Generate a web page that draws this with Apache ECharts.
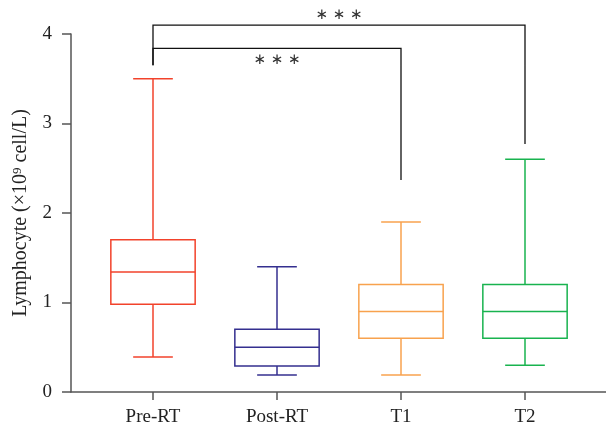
<!DOCTYPE html>
<html lang="en">
<head>
    <meta charset="UTF-8">
    <title>Lymphocyte</title>
    <script src="https://cdn.jsdelivr.net/npm/echarts@6/dist/echarts.min.js"></script>
</head>
<body style="margin:0">
    <div id="pic1" style="width:606px;height:432px;"></div>
    <script>
        var myChart = echarts.init(document.getElementById("pic1"));

        // groups and box values: [min, Q1, median, Q3, max]
        var categories = ['Pre-RT', 'Post-RT', 'T1', 'T2'];
        var preRT  = [0.39, 0.98, 1.34, 1.70, 3.50];
        var postRT = [0.19, 0.29, 0.50, 0.70, 1.40];
        var t1     = [0.19, 0.60, 0.90, 1.20, 1.90];
        var t2     = [0.30, 0.60, 0.90, 1.20, 2.60];
        var yTicks = [0, 1, 2, 3, 4];

        // brackets: [from group, to group, bar level, end level at from, end level at to]
        var brackets = [
            [0, 3, 4.10, 3.65, 2.77],
            [0, 2, 3.84, 3.65, 2.37]
        ];
        // star labels: [from group, to group, level] -> text centred between the two groups
        var stars = [
            [0, 3, 4.21],
            [0, 2, 3.71]
        ];
        var starText = '∗ ∗ ∗';

        var colors = ['#f2422b', '#342f8f', '#f8a24e', '#19b34f'];
        var boxes = [preRT, postRT, t1, t2];
        var font = 'Liberation Serif';

        var boxData = boxes.map(function (b, i) { return [i].concat(b); });

        function renderBox(params, api) {
            var i = api.value(0);
            var band = api.size([1, 0])[0];
            var hw = band * 0.34, cw = band * 0.16;
            var pMin = api.coord([i, api.value(1)]);
            var pQ1 = api.coord([i, api.value(2)]);
            var pMed = api.coord([i, api.value(3)]);
            var pQ3 = api.coord([i, api.value(4)]);
            var pMax = api.coord([i, api.value(5)]);
            var x = pMin[0];
            var st = { stroke: colors[params.dataIndex], lineWidth: 1.5, fill: null };
            function line(x1, y1, x2, y2) {
                return { type: 'line', shape: { x1: x1, y1: y1, x2: x2, y2: y2 }, style: st };
            }
            return {
                type: 'group',
                children: [
                    { type: 'rect', shape: { x: x - hw, y: pQ3[1], width: hw * 2, height: pQ1[1] - pQ3[1] }, style: st },
                    line(x - hw, pMed[1], x + hw, pMed[1]),
                    line(x, pQ3[1], x, pMax[1]),
                    line(x, pQ1[1], x, pMin[1]),
                    line(x - cw, pMax[1], x + cw, pMax[1]),
                    line(x - cw, pMin[1], x + cw, pMin[1])
                ]
            };
        }

        function renderBracket(params, api) {
            var a = api.coord([api.value(0), api.value(2)]);
            var b = api.coord([api.value(1), api.value(2)]);
            var ea = api.coord([api.value(0), api.value(3)]);
            var eb = api.coord([api.value(1), api.value(4)]);
            return {
                type: 'polyline',
                shape: { points: [[ea[0], ea[1]], [a[0], a[1]], [b[0], b[1]], [eb[0], eb[1]]] },
                style: { stroke: '#111', lineWidth: 1.3, fill: null }
            };
        }

        function renderStars(params, api) {
            var a = api.coord([api.value(0), api.value(2)]);
            var b = api.coord([api.value(1), api.value(2)]);
            return {
                type: 'text',
                x: (a[0] + b[0]) / 2, y: a[1],
                style: {
                    text: starText,
                    align: 'center', verticalAlign: 'middle',
                    font: '15px "DejaVu Sans"', fill: '#333'
                }
            };
        }

        var option = {
            backgroundColor: '#ffffff',
            animation: false,
            grid: [
                { left: 71, right: 0, top: 34, bottom: 40 },
                { left: 91, right: 19, top: 34, bottom: 40 }
            ],
            xAxis: [
                {
                    gridIndex: 0, type: 'value', min: 0, max: 1,
                    splitLine: { show: false }, axisTick: { show: false }, axisLabel: { show: false },
                    axisLine: { show: true, lineStyle: { color: '#555', width: 1.5 } }
                },
                {
                    gridIndex: 1, type: 'category', data: categories,
                    axisLine: { show: false },
                    axisTick: { show: true, alignWithLabel: true, length: 8, lineStyle: { color: '#555', width: 1.5 } },
                    axisLabel: { fontFamily: font, fontSize: 19, color: '#222', margin: 16 }
                }
            ],
            yAxis: [
                {
                    gridIndex: 0, type: 'value', min: yTicks[0], max: yTicks[yTicks.length - 1], interval: 1,
                    splitLine: { show: false },
                    axisLine: { show: true, lineStyle: { color: '#555', width: 1.5 } },
                    axisTick: { show: true, length: 9, lineStyle: { color: '#555', width: 1.5 } },
                    axisLabel: { fontFamily: font, fontSize: 19, color: '#222', margin: 19 },
                    name: 'Lymphocyte (×10{sup|9} cell/L)',
                    nameLocation: 'middle', nameRotate: 90, nameGap: 40,
                    nameTextStyle: {
                        fontFamily: font, fontSize: 20, color: '#222',
                        rich: { sup: { fontFamily: font, fontSize: 13, verticalAlign: 'top', color: '#222' } }
                    }
                },
                {
                    gridIndex: 1, type: 'value', min: yTicks[0], max: yTicks[yTicks.length - 1], show: false
                }
            ],
            series: [
                { type: 'custom', xAxisIndex: 1, yAxisIndex: 1, renderItem: renderBox, data: boxData, clip: false },
                { type: 'custom', xAxisIndex: 1, yAxisIndex: 1, renderItem: renderBracket, data: brackets, clip: false },
                { type: 'custom', xAxisIndex: 1, yAxisIndex: 1, renderItem: renderStars, data: stars, clip: false }
            ]
        };

        myChart.setOption(option);
    </script>
</body>
</html>
